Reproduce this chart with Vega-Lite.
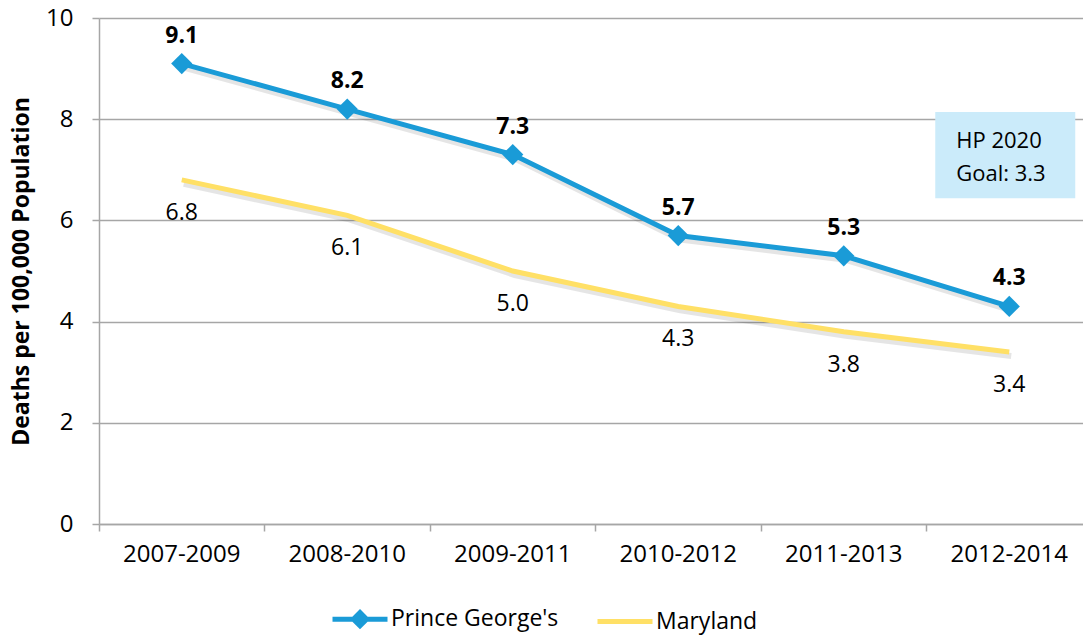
{
  "$schema": "https://vega.github.io/schema/vega-lite/v6.json",
  "width": 993,
  "height": 506,
  "autosize": "none",
  "padding": {"left": 99, "top": 18, "right": 0, "bottom": 113},
  "background": "white",
  "config": {"font": "Open Sans", "view": {"stroke": null}},
  "datasets": {
    "series": [
      {"period": "2007-2009", "series": "Prince George's", "rate": 9.1},
      {"period": "2008-2010", "series": "Prince George's", "rate": 8.2},
      {"period": "2009-2011", "series": "Prince George's", "rate": 7.3},
      {"period": "2010-2012", "series": "Prince George's", "rate": 5.7},
      {"period": "2011-2013", "series": "Prince George's", "rate": 5.3},
      {"period": "2012-2014", "series": "Prince George's", "rate": 4.3},
      {"period": "2007-2009", "series": "Maryland", "rate": 6.8},
      {"period": "2008-2010", "series": "Maryland", "rate": 6.1},
      {"period": "2009-2011", "series": "Maryland", "rate": 5.0},
      {"period": "2010-2012", "series": "Maryland", "rate": 4.3},
      {"period": "2011-2013", "series": "Maryland", "rate": 3.8},
      {"period": "2012-2014", "series": "Maryland", "rate": 3.4}
    ],
    "notebox": [{"period": "2012-2014", "top": 8.14, "bottom": 6.44}],
    "notetext": [
      {"period": "2012-2014", "y": 7.44, "text": "HP 2020"},
      {"period": "2012-2014", "y": 6.78, "text": "Goal: 3.3"}
    ]
  },
  "layer": [
    {
      "data": {"name": "notebox"},
      "mark": {"type": "rect", "width": 140, "xOffset": -4, "color": "#CBEBFA"},
      "encoding": {
        "x": {
          "field": "period", "type": "nominal", "sort": null, "bandPosition": 0.5,
          "scale": {"type": "band", "paddingInner": 0, "paddingOuter": 0,
            "domain": ["2007-2009", "2008-2010", "2009-2011", "2010-2012", "2011-2013", "2012-2014"]},
          "axis": {
            "bandPosition": 0, "labelAngle": 0, "title": null,
            "labelFontSize": 24, "labelColor": "black", "labelPadding": 11,
            "tickSize": 7, "tickColor": "#A6A6A6", "tickWidth": 1.5,
            "domainColor": "#A6A6A6", "domainWidth": 1.5, "grid": false
          }
        },
        "y": {
          "field": "top", "type": "quantitative",
          "scale": {"domain": [0, 10], "nice": false},
          "axis": {
            "values": [0, 2, 4, 6, 8, 10], "grid": true, "gridColor": "#A6A6A6", "gridWidth": 1.5,
            "domainColor": "#A6A6A6", "domainWidth": 1.5, "tickColor": "#A6A6A6", "tickWidth": 1.5, "tickSize": 7,
            "labelFontSize": 24, "labelColor": "black", "labelPadding": 19,
            "title": "Deaths per 100,000 Population", "titleFontSize": 23, "titleFontWeight": "bold",
            "titleColor": "black", "titlePadding": 12
          }
        },
        "y2": {"field": "bottom"}
      }
    },
    {
      "data": {"name": "notetext"},
      "mark": {"type": "text", "align": "left", "baseline": "alphabetic", "dx": -53, "fontSize": 22, "color": "black"},
      "encoding": {
        "x": {"field": "period", "type": "nominal", "sort": null, "bandPosition": 0.5},
        "y": {"field": "y", "type": "quantitative"},
        "text": {"field": "text"}
      }
    },
    {
      "data": {"name": "series"},
      "mark": {"type": "line", "color": "black", "opacity": 0.1, "strokeWidth": 6, "xOffset": 2, "yOffset": 4},
      "encoding": {
        "x": {"field": "period", "type": "nominal", "sort": null, "bandPosition": 0.5},
        "y": {"field": "rate", "type": "quantitative"},
        "detail": {"field": "series"}
      }
    },
    {
      "data": {"name": "series"},
      "mark": {"type": "line", "strokeWidth": 5},
      "encoding": {
        "x": {"field": "period", "type": "nominal", "sort": null, "bandPosition": 0.5},
        "y": {"field": "rate", "type": "quantitative"},
        "color": {
          "field": "series", "type": "nominal",
          "scale": {"domain": ["Prince George's", "Maryland"], "range": ["#1A9BD7", "#FFE066"]},
          "legend": {
            "orient": "none", "legendX": 231, "legendY": 571, "direction": "horizontal",
            "title": null, "labelFontSize": 23, "labelColor": "black", "labelOffset": 1, "labelLimit": 400,
            "symbolSize": 3025, "symbolStrokeWidth": 5, "columnPadding": 28,
            "encode": {
              "symbols": {
                "update": {
                  "shape": [
                    {"test": "datum.value === 'Maryland'", "value": "stroke"},
                    {"value": "M-1,0H1M0,-0.24L0.24,0L0,0.24L-0.24,0Z"}
                  ],
                  "fill": [
                    {"test": "datum.value === 'Maryland'", "value": "transparent"},
                    {"value": "#1A9BD7"}
                  ]
                }
              }
            }
          }
        }
      }
    },
    {
      "data": {"name": "series"},
      "transform": [{"filter": "datum.series === \"Prince George's\""}],
      "mark": {"type": "point", "shape": "diamond", "filled": true, "size": 450, "color": "#1A9BD7", "opacity": 1},
      "encoding": {
        "x": {"field": "period", "type": "nominal", "sort": null, "bandPosition": 0.5},
        "y": {"field": "rate", "type": "quantitative"}
      }
    },
    {
      "data": {"name": "series"},
      "transform": [{"filter": "datum.series === \"Prince George's\""}],
      "mark": {"type": "text", "dy": -28, "fontSize": 23, "fontWeight": "bold", "color": "black"},
      "encoding": {
        "x": {"field": "period", "type": "nominal", "sort": null, "bandPosition": 0.5},
        "y": {"field": "rate", "type": "quantitative"},
        "text": {"field": "rate", "type": "quantitative", "format": ".1f"}
      }
    },
    {
      "data": {"name": "series"},
      "transform": [{"filter": "datum.series === 'Maryland'"}],
      "mark": {"type": "text", "dy": 33, "fontSize": 23, "color": "black"},
      "encoding": {
        "x": {"field": "period", "type": "nominal", "sort": null, "bandPosition": 0.5},
        "y": {"field": "rate", "type": "quantitative"},
        "text": {"field": "rate", "type": "quantitative", "format": ".1f"}
      }
    }
  ]
}
